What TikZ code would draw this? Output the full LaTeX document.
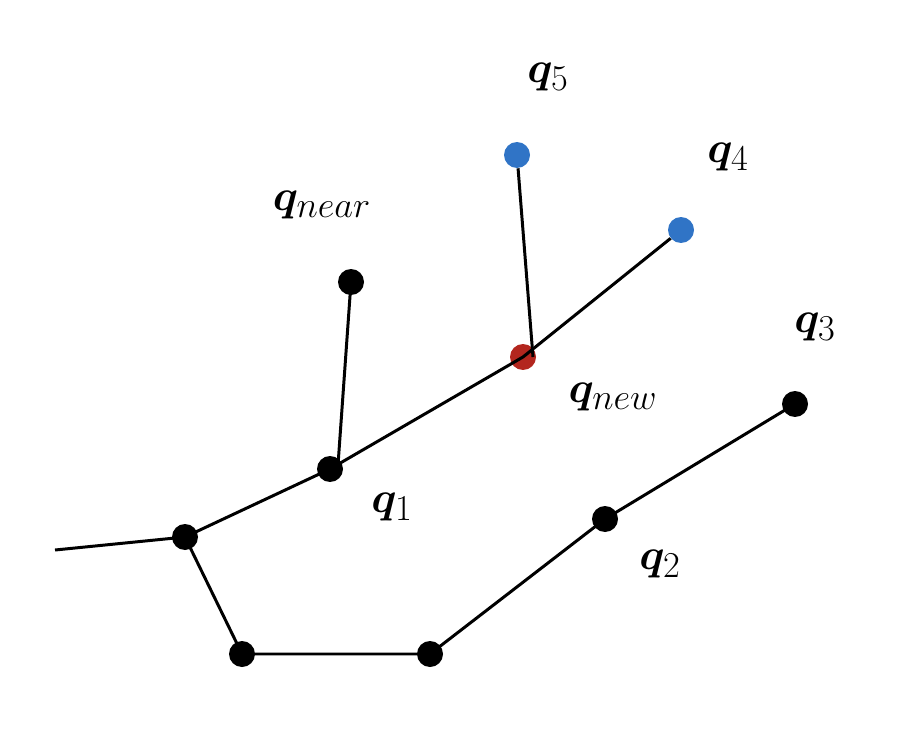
\documentclass[tikz,border=0pt]{standalone}
\usepackage{amsmath}
\usepackage{bm}
\definecolor{dotred}{RGB}{179,38,30}
\definecolor{dotblue}{RGB}{48,116,198}
\tikzset{
  dot/.style={circle, inner sep=0pt, minimum size=0.52cm, fill=black},
  reddot/.style={dot, fill=dotred},
  bluedot/.style={dot, fill=dotblue},
  edge/.style={line width=1.7pt, black},
  lab/.style={font=\fontsize{31}{36}\selectfont, inner sep=0pt}
}
\begin{document}
\begin{tikzpicture}[x=0.02cm, y=-0.02cm]
\useasboundingbox (0,0) rectangle (922,746);
\coordinate (s) at (55,550);
\node[dot] (a) at (185,537) {};
\node[dot] (b) at (242,654) {};
\node[dot] (c) at (430,654) {};
\node[dot] (q2) at (605,519) {};
\node[dot] (q3) at (795,404) {};
\node[dot] (q1) at (330,469) {};
\node[dot] (qn) at (351,282) {};
\node[reddot] (qw) at (523,357) {};
\node[bluedot] (q4) at (681,230) {};
\node[bluedot] (q5) at (517,155) {};
\draw[edge] (s) -- (a.center) -- (b.center) -- (c.center) -- (q2.center) -- (q3.center);
\draw[edge] (a.center) -- (q1.center) -- (qw.center) -- (q4);
\draw[edge] (q1.center) ++(8,-4) -- (qn.center);
\draw[edge] (qw.center) ++(10,0) -- (q5);
\node[lab] (l5) at (548,77) {$\bm{q}_5$};
\node[lab] (l4) at (728,157) {$\bm{q}_4$};
\node[lab] (lnear) at (322,205) {$\bm{q}_{near}$};
\node[lab] (l3) at (815,327) {$\bm{q}_3$};
\node[lab] (lnew) at (613,397) {$\bm{q}_{new}$};
\node[lab] (l1) at (392,507) {$\bm{q}_1$};
\node[lab] (l2) at (660,564) {$\bm{q}_2$};
\end{tikzpicture}
\end{document}
